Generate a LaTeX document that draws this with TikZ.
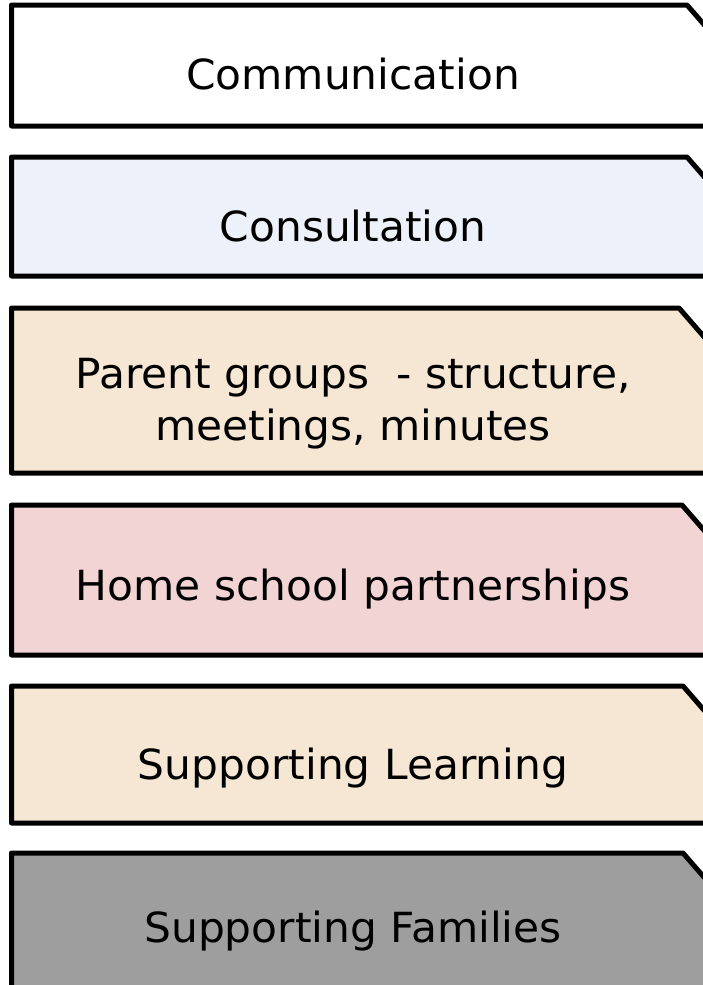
\documentclass[tikz,border=0pt]{standalone}
\usepackage{fontspec}
\setmainfont[FakeStretch=1.02]{DejaVu Sans}
\definecolor{consultBlue}{HTML}{EDF2FA}
\definecolor{groupBeige}{HTML}{F6E6D4}
\definecolor{homePink}{HTML}{F2D4D4}
\definecolor{familyGray}{HTML}{9E9E9E}
\begin{document}
\begin{tikzpicture}[x=1pt,y=-1pt,
                    snip box/.style={draw=black,line width=5pt,line join=round},
                    main label/.style={font=\fontsize{41.5}{52}\selectfont,align=center,anchor=base}]

      \useasboundingbox (0,0) rectangle (703,985);
      \clip (0,0) rectangle (703,985);

      % Draw boxes
      \foreach \top/\bot/\cut/\col in {5/126/687/white,
                                       157/276/687/consultBlue,
                                       308/473/679/groupBeige,
                                       505/655/682/homePink,
                                       686/823/683/groupBeige,
                                       853/1000/683/familyGray}
        \draw[snip box,fill=\col] (11.5,\bot) -- (11.5,\top) -- (\cut,\top)
          -- (740,{\top+(740-\cut)*1.15}) -- (740,\bot) -- cycle;

      % Define labels
      \node[main label] (comm) at (353,89) {Communication};
      \node[main label] (consult) at (353,241) {Consultation};
      \node[main label] (groups) at (353,440) {Parent groups~ - structure,\\ meetings, minutes};
      \node[main label] (home) at (353,600) {Home school partnerships};
      \node[main label] (learning) at (353,779) {Supporting Learning};
      \node[main label] (families) at (353,942) {Supporting Families};

    \end{tikzpicture}
\end{document}
